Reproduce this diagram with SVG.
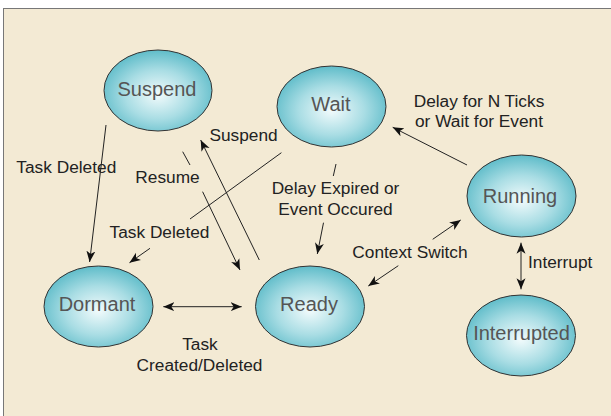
<svg xmlns="http://www.w3.org/2000/svg" width="611" height="416" viewBox="0 0 611 416">
<defs>
<radialGradient id="g" cx="0.5" cy="0.55" r="0.55">
<stop offset="0" stop-color="#f2fbfc"/>
<stop offset="0.55" stop-color="#a9dde4"/>
<stop offset="1" stop-color="#5fbcc9"/>
</radialGradient>
<marker id="ah" markerUnits="userSpaceOnUse" markerWidth="12" markerHeight="10" refX="11" refY="5" orient="auto-start-reverse" viewBox="0 0 12 10">
<path d="M0,0.5 L11,5 L0,9.5 L3,5 z" fill="#111"/>
</marker>
<style>
.node ellipse{fill:url(#g);stroke:#333;stroke-width:1}
.node text{font-family:"Liberation Sans",Arial,sans-serif;font-size:20px;fill:#555;text-anchor:middle}
.lbl{font-family:"Liberation Sans",Arial,sans-serif;font-size:17.3px;fill:#222;text-anchor:middle}
.c path{fill:none;stroke:#222;stroke-width:1}
.a{marker-end:url(#ah)}
.b{marker-start:url(#ah);marker-end:url(#ah)}
</style>
</defs>
<rect x="0" y="0" width="611" height="416" fill="#ffffff"/>
<rect x="3" y="8" width="608" height="408" fill="#777"/>
<rect x="4" y="9" width="607" height="407" fill="#f3ead4"/>

<g id="connectors" class="c">
<path class="a" d="M106,125 L89.6,262"/>
<path d="M281.4,152.7 L190,219"/>
<path class="a" d="M150,248.3 L129.5,262.7"/>
<path d="M182.7,151.7 L190,165"/>
<path class="a" d="M202.6,191.7 L240,270"/>
<path class="a" d="M259.3,260 L200.7,140"/>
<path d="M336,164 L333.3,176"/>
<path class="a" d="M323.5,222.7 L317.3,254"/>
<path class="a" d="M467,165 L392.7,127.3"/>
<path class="a" d="M398.3,265.7 L368.3,286"/>
<path class="a" d="M432.7,239.3 L460.7,220"/>
<path class="b" d="M521,242.7 L521,289.3"/>
<path class="b" d="M163.3,306.7 L241.7,306.7"/>
</g>

<g id="labels">
<text class="lbl" x="66.3" y="173">Task Deleted</text>
<text class="lbl" x="243.5" y="141">Suspend</text>
<text class="lbl" x="167.5" y="183">Resume</text>
<text class="lbl" x="479" y="106.7">Delay for N Ticks</text>
<text class="lbl" x="479" y="127.3">or Wait for Event</text>
<text class="lbl" x="335.5" y="194">Delay Expired or</text>
<text class="lbl" x="335.5" y="215">Event Occured</text>
<text class="lbl" x="159.5" y="238">Task Deleted</text>
<text class="lbl" x="410" y="258">Context Switch</text>
<text class="lbl" x="528" y="268" style="text-anchor:start">Interrupt</text>
<text class="lbl" x="200" y="350">Task</text>
<text class="lbl" x="199.5" y="371">Created/Deleted</text>
</g>

<g id="suspend" class="node"><ellipse cx="158" cy="90.5" rx="54" ry="40.5"/><text x="157" y="95.5">Suspend</text></g>
<g id="wait" class="node"><ellipse cx="331.5" cy="106.5" rx="54.5" ry="40.5"/><text x="331" y="111">Wait</text></g>
<g id="running" class="node"><ellipse cx="521.5" cy="196" rx="54.5" ry="41"/><text x="520" y="202.5">Running</text></g>
<g id="dormant" class="node"><ellipse cx="98.5" cy="306.5" rx="54.5" ry="40.5"/><text x="97" y="311">Dormant</text></g>
<g id="ready" class="node"><ellipse cx="310" cy="306.5" rx="54.5" ry="40.5"/><text x="309" y="311">Ready</text></g>
<g id="interrupted" class="node"><ellipse cx="521" cy="335.5" rx="54.5" ry="40.5"/><text x="521.5" y="340">Interrupted</text></g>
</svg>
